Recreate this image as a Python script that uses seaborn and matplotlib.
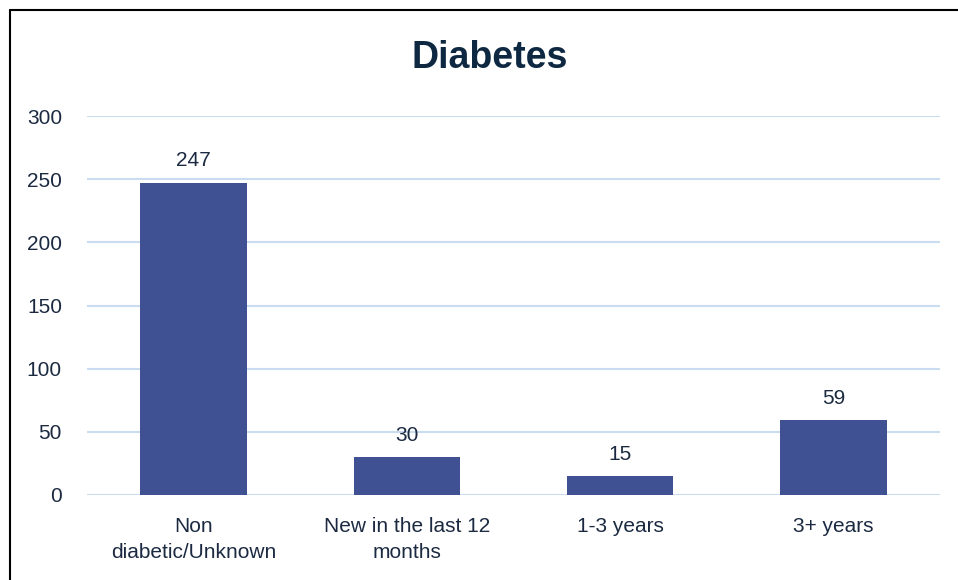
import matplotlib
matplotlib.use("Agg")
import matplotlib.pyplot as plt
import seaborn as sns
import pandas as pd
from matplotlib.lines import Line2D

categories = ["Non\ndiabetic/Unknown", "New in the last 12\nmonths", "1-3 years", "3+ years"]
counts = [247, 30, 15, 59]
y_ticks = [0, 50, 100, 150, 200, 250, 300]

TEXT = "#1B2A41"
BAR = "#3F5193"
GRID = "#C9DCF0"


def main():
    sns.set_style("white")
    plt.rcParams["font.family"] = ["Liberation Sans", "DejaVu Sans"]

    df = pd.DataFrame({"category": categories, "count": counts})

    fig = plt.figure(figsize=(9.58, 5.80), dpi=100)
    ax = fig.add_axes([87 / 958, 1 - 495 / 580, (940 - 87) / 958, (495 - 116) / 580])

    sns.barplot(data=df, x="category", y="count", color=BAR, width=0.5,
                saturation=1, ax=ax, zorder=3, linewidth=0)

    ax.set_ylim(0, 300)
    ax.set_yticks(y_ticks)
    ax.set_xlim(-0.5, len(categories) - 0.5)
    ax.grid(axis="y", color=GRID, linewidth=1.5, zorder=0)
    ax.set_axisbelow(True)
    for s in ax.spines.values():
        s.set_visible(False)
    ax.set_xlabel("")
    ax.set_ylabel("")
    ax.tick_params(axis="y", length=0, pad=18, labelsize=15, labelcolor=TEXT)
    ax.tick_params(axis="x", length=0, pad=16, labelsize=15, labelcolor=TEXT)
    for lbl in ax.get_yticklabels():
        lbl.set_horizontalalignment("right")
    for lbl in ax.get_xticklabels():
        lbl.set_linespacing(1.45)

    ax.bar_label(ax.containers[0], padding=9, fontsize=15, color=TEXT)

    fig.text(490 / 958, 1 - 58 / 580, "Diabetes", ha="center", va="center",
             fontsize=27, fontweight="bold", color="#0E2841")

    # frame lines (left and top only)
    fig.add_artist(Line2D([9.5 / 958, 9.5 / 958], [0, 1 - 10 / 580], color="black", lw=1.5,
                          transform=fig.transFigure))
    fig.add_artist(Line2D([9.5 / 958, 1], [1 - 10 / 580, 1 - 10 / 580], color="black", lw=1.5,
                          transform=fig.transFigure))

    fig.savefig("out.png", dpi=100)
    plt.close(fig)


if __name__ == "__main__":
    main()
